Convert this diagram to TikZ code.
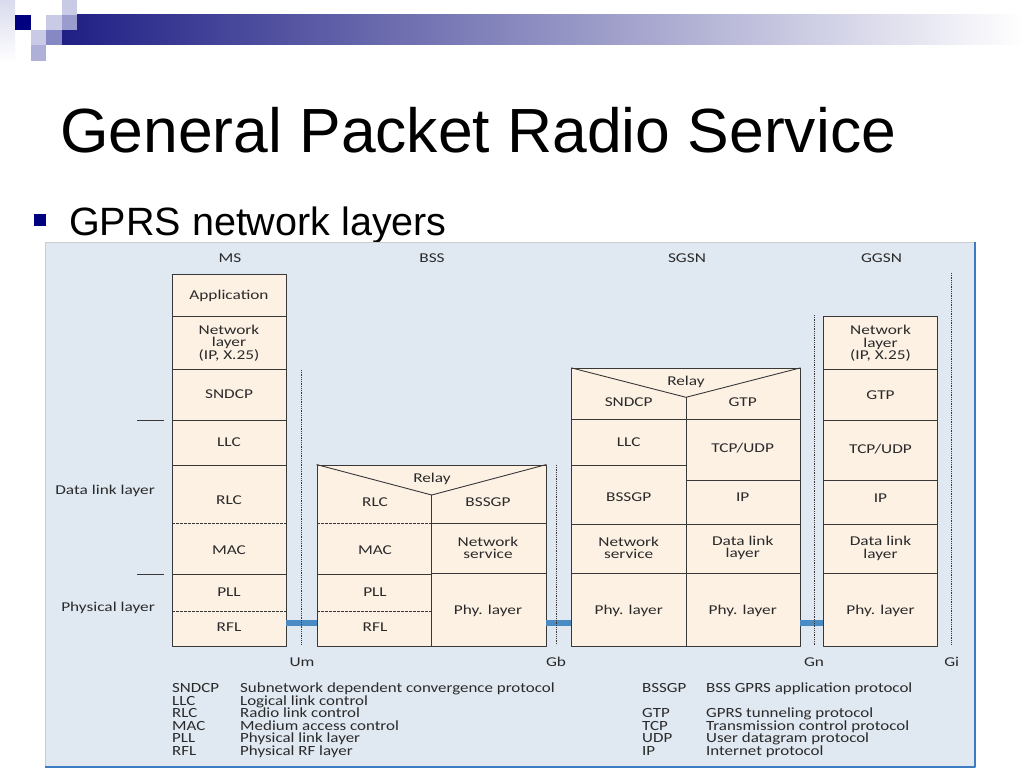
\documentclass[tikz,border=0pt]{standalone}
\usepackage{fontspec}
\setmainfont{Liberation Sans}
\newfontfamily\diagfont[FakeStretch=1.28]{Carlito}
\newfontfamily\legfont[FakeStretch=1.21]{Carlito}
\definecolor{panelfill}{HTML}{E0E8F1}
\definecolor{boxfill}{HTML}{FDF1E4}
\definecolor{linec}{HTML}{383838}
\definecolor{txt}{HTML}{2A2A2A}
\definecolor{linkblue}{HTML}{4B8BC3}
\definecolor{borderblue}{HTML}{3C7DC2}
\definecolor{navy}{HTML}{000080}
\definecolor{bardark}{HTML}{1F1F85}
\definecolor{lav}{HTML}{C9CBE6}
\definecolor{midlav}{HTML}{9A9CCD}
\definecolor{darklav}{HTML}{8688C4}
\tikzset{
  stack/.style={draw=linec,fill=boxfill,line width=0.9pt,inner sep=0pt},
  sep/.style={draw=linec,line width=0.9pt},
  dsep/.style={draw=linec,line width=0.8pt,dash pattern=on 2.5pt off 1.5pt,line cap=butt},
  iface/.style={draw=linec,line width=1pt,dash pattern=on 1pt off 0.8pt,line cap=butt},
  link/.style={draw=linkblue,line width=5.5pt,line cap=butt},
  mlbl/.style={font={\diagfont\fontsize{13.5}{12.5}\selectfont},text=txt,align=center,inner sep=0pt},
  lbl/.style={mlbl,text height=9.6,text depth=2.6},
  leg/.style={font={\legfont\fontsize{14}{12.5}\selectfont},text=txt,anchor=base west,inner sep=0pt}
}
\begin{document}
\begin{tikzpicture}[x=1pt,y=-1pt,line join=round]
	\useasboundingbox (0,0) rectangle (1024,768);
	% logo and bar
	\shade[top color=lav!70,bottom color=white] (0,0) rectangle (15,62);
	\shade[left color=bardark,right color=white] (62,15) rectangle (1024,45);
	\fill[lav] (62,0) rectangle (77,15);
	\fill[navy] (15,15) rectangle (30.5,30);
	\fill[lav] (46,15) rectangle (62,30);
	\fill[midlav] (62,15) rectangle (77,30);
	\fill[lav] (31,30) rectangle (46,45);
	\fill[darklav] (46,30) rectangle (62,45);
	\fill[midlav!80] (31,45) rectangle (46,61);
	% title
	\node[anchor=base west,inner sep=0pt,font={\fontsize{62.4}{70}\selectfont}] (title) at (60,152) {General Packet Radio Service};
	\node[fill=navy,minimum size=12,inner sep=0pt] (bullet) at (40,220) {};
	\node[anchor=base west,inner sep=0pt,font={\fontsize{39.5}{45}\selectfont}] (subtitle) at (69,235) {GPRS network layers};
	% panel
	\fill[panelfill] (45,242) rectangle (975,767);
	\draw[gray!40,line width=0.6pt] (45,767) -- (45,242) -- (975,242);
	\draw[borderblue,line width=2pt] (975,242) -- (975,767) -- (45,767);
	% stacks
	\node[stack,minimum width=114,minimum height=372] (ms) at (229,460.5) {};
	\node[stack,minimum width=229,minimum height=181.5] (bss) at (431.5,555.75) {};
	\node[stack,minimum width=228.3,minimum height=278.2] (sgsn) at (685.85,507.4) {};
	\node[stack,minimum width=114.4,minimum height=330.5] (ggsn) at (880.5,481.25) {};
	\coordinate (bar) at (0,623);
	\draw[link] (ms.east |- bar) -- (bss.west |- bar);
	\draw[link] (bss.east |- bar) -- (sgsn.west |- bar);
	\draw[link] (sgsn.east |- bar) -- (ggsn.west |- bar);
	% MS
	\foreach \y in {316,369,420,465,574} \draw[sep] (172,\y) -- (286,\y);
	\foreach \y in {523,611} \draw[dsep] (172,\y) -- (286,\y);
	\node[lbl] (msapp) at (229,296) {Application};
	\node[mlbl] (msnet) at (229,343) {Network\\layer\\(IP, X.25)};
	\node[lbl] (mssndcp) at (229,395) {SNDCP};
	\node[lbl] (msllc) at (229,442.5) {LLC};
	\node[lbl] (msrlc) at (229,501) {RLC};
	\node[lbl] (msmac) at (229,551) {MAC};
	\node[lbl] (mspll) at (229,593) {PLL};
	\node[lbl] (msrfl) at (229,628) {RFL};
	% BSS
	\draw[sep] (bss.north west) -- (431.7,495) -- (bss.north east);
	\draw[sep] (431.7,495) -- (431.7,646.5);
	\draw[dsep] (317,523.3) -- (431.7,523.3);
	\draw[sep] (317,574) -- (431.7,574);
	\draw[dsep] (317,611.3) -- (431.7,611.3);
	\draw[sep] (431.7,523.3) -- (546,523.3);
	\draw[sep] (431.7,573.3) -- (546,573.3);
	\node[lbl] (bssrelay) at (432,479) {Relay};
	\node[lbl] (bssrlc) at (375,503) {RLC};
	\node[lbl] (bssgp) at (488,503) {BSSGP};
	\node[lbl] (bssmac) at (375,551) {MAC};
	\node[mlbl] (bssns) at (488,548) {Network\\service};
	\node[lbl] (bsspll) at (375,593) {PLL};
	\node[lbl] (bssrfl) at (375,628) {RFL};
	\node[lbl] (bssphy) at (488,610.5) {Phy. layer};
	% SGSN
	\draw[sep] (sgsn.north west) -- (686,397.3) -- (sgsn.north east);
	\draw[sep] (686,397.3) -- (686,646.5);
	\draw[sep] (571.7,419.3) -- (800,419.3);
	\foreach \y in {465,524,573.3} \draw[sep] (571.7,\y) -- (686,\y);
	\foreach \y in {480.7,524,573.3} \draw[sep] (686,\y) -- (800,\y);
	\node[lbl] (sgrelay) at (686,381.7) {Relay};
	\node[lbl] (sgsndcp) at (628.7,402.7) {SNDCP};
	\node[lbl] (sggtp) at (742.7,402.7) {GTP};
	\node[lbl] (sgllc) at (628.7,442.7) {LLC};
	\node[lbl] (sgtcp) at (742.7,448.7) {TCP/UDP};
	\node[lbl] (sgbssgp) at (628.7,498.3) {BSSGP};
	\node[lbl] (sgip) at (742.7,498.3) {IP};
	\node[mlbl] (sgns) at (628.7,548) {Network\\service};
	\node[mlbl] (sgdl) at (742.7,548) {Data link\\layer};
	\node[lbl] (sgphya) at (628.7,610.5) {Phy. layer};
	\node[lbl] (sgphyb) at (742.7,610.5) {Phy. layer};
	% GGSN
	\foreach \y in {369,420,480,524.3,573.3} \draw[sep] (823.3,\y) -- (937.7,\y);
	\node[mlbl] (ggnet) at (880.5,343.5) {Network\\layer\\(IP, X.25)};
	\node[lbl] (gggtp) at (880.5,396) {GTP};
	\node[lbl] (ggtcp) at (880.5,449.5) {TCP/UDP};
	\node[lbl] (ggip) at (880.5,499) {IP};
	\node[mlbl] (ggdl) at (880.5,548.5) {Data link\\layer};
	\node[lbl] (ggphy) at (880.5,610.5) {Phy. layer};
	% interfaces
	\draw[iface] (301.7,370) -- (301.7,645);
	\draw[iface] (556,465) -- (556,645);
	\draw[iface] (814,315) -- (814,646);
	\draw[iface] (951.7,273) -- (951.7,645);
	\node[lbl] (um) at (302,663) {Um};
	\node[lbl] (gb) at (556,663) {Gb};
	\node[lbl] (gn) at (814,663) {Gn};
	\node[lbl] (gi) at (951.7,663) {Gi};
	% headers and side labels
	\node[lbl] (hms) at (230,259) {MS};
	\node[lbl] (hbss) at (432,259) {BSS};
	\node[lbl] (hsgsn) at (687,259) {SGSN};
	\node[lbl] (hggsn) at (881.5,259) {GGSN};
	\node[lbl,anchor=east] (dll) at (155,491) {Data link layer};
	\node[lbl,anchor=east] (phl) at (155,608) {Physical layer};
	\draw[sep] (137,420) -- (164,420);
	\draw[sep] (137,574) -- (164,574);
	% legend
	\foreach \ab/\tx [count=\i from 0] in {SNDCP/Subnetwork dependent convergence protocol,LLC/Logical link control,RLC/Radio link control,MAC/Medium access control,PLL/Physical link layer,RFL/Physical RF layer}{
		\node[leg] (la\i) at (172,692.5+12.5*\i) {\ab};
		\node[leg] (lt\i) at (240,692.5+12.5*\i) {\tx};
	}
	\foreach \ab/\tx/\r in {BSSGP/BSS GPRS application protocol/0,GTP/GPRS tunneling protocol/2,TCP/Transmission control protocol/3,UDP/User datagram protocol/4,IP/Internet protocol/5}{
		\node[leg] (ra\r) at (642,692.5+12.5*\r) {\ab};
		\node[leg] (rt\r) at (706,692.5+12.5*\r) {\tx};
	}
\end{tikzpicture}
\end{document}
